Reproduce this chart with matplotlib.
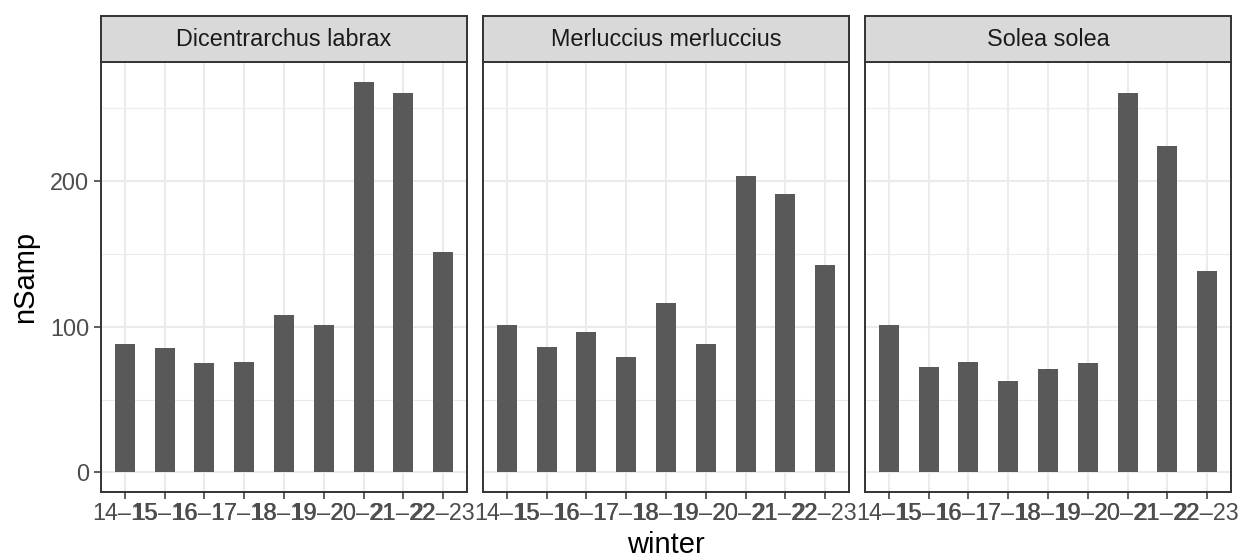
import matplotlib.pyplot as plt
import numpy as np
from matplotlib.patches import Rectangle

plt.rcParams['font.family'] = ['Liberation Sans', 'DejaVu Sans']

winters = ['14–15', '15–16', '16–17', '17–18', '18–19', '19–20', '20–21', '21–22', '22–23']
species = ['Dicentrarchus labrax', 'Merluccius merluccius', 'Solea solea']

labrax = [88, 85, 75, 76, 108, 101, 268, 260, 151]
merluccius = [101, 86, 96, 79, 116, 88, 203, 191, 142]
solea = [101, 72, 76, 63, 71, 75, 260, 224, 138]
counts = [labrax, merluccius, solea]

W, H = 1242, 557
fig = plt.figure(figsize=(W / 100, H / 100), dpi=100)

# panel edges in pixels
lefts = [101, 483, 865]
pw = 366
top, bottom = 62, 492
strip_top = 16

ymax = max(max(c) for c in counts)
ylo, yhi = -0.05 * ymax, ymax * 1.05

tick_size = 16.8
title_size = 21
dark = '#333333'

x = np.arange(1, len(winters) + 1)

for i, sp in enumerate(species):
    ax = fig.add_axes([lefts[i] / W, 1 - bottom / H, pw / W, (bottom - top) / H])
    ax.set_facecolor('white')
    ax.bar(x, counts[i], width=0.5, color='#595959', zorder=3)
    ax.set_xlim(0.4, len(winters) + 0.6)
    ax.set_ylim(ylo, yhi)
    ax.set_xticks(x)
    ax.set_xticklabels(winters)
    ax.set_yticks([0, 100, 200])
    ax.set_yticks([50, 150, 250], minor=True)
    ax.grid(which='major', color='#EBEBEB', linewidth=1.5, zorder=0)
    ax.grid(which='minor', axis='y', color='#EBEBEB', linewidth=0.8, zorder=0)
    ax.tick_params(which='minor', length=0)
    ax.tick_params(axis='x', which='major', length=5, width=1.1, color=dark,
                   labelsize=tick_size, labelcolor='#4D4D4D', pad=2)
    ax.tick_params(axis='y', which='major', length=5, width=1.1, color=dark,
                   labelsize=tick_size, labelcolor='#4D4D4D', pad=3.5)
    if i > 0:
        ax.tick_params(axis='y', which='major', left=False, labelleft=False)
    for s in ax.spines.values():
        s.set_color(dark)
        s.set_linewidth(1.4)
        s.set_zorder(4)

    # facet strip
    sax = fig.add_axes([lefts[i] / W, 1 - top / H, pw / W, (top - strip_top) / H])
    sax.set_facecolor('#D9D9D9')
    sax.set_xticks([])
    sax.set_yticks([])
    for s in sax.spines.values():
        s.set_color(dark)
        s.set_linewidth(1.4)
    sax.text(0.5, 0.5, sp, ha='center', va='center', fontsize=tick_size,
             color='#1A1A1A', transform=sax.transAxes)

fig.text((lefts[0] + lefts[2] + pw) / 2 / W, 1 - 545 / H, 'winter',
         ha='center', va='center', fontsize=title_size)
fig.text(25 / W, 1 - 277 / H, 'nSamp', ha='center', va='center',
         rotation=90, fontsize=title_size)

fig.savefig('out.png', dpi=100, facecolor='white')
